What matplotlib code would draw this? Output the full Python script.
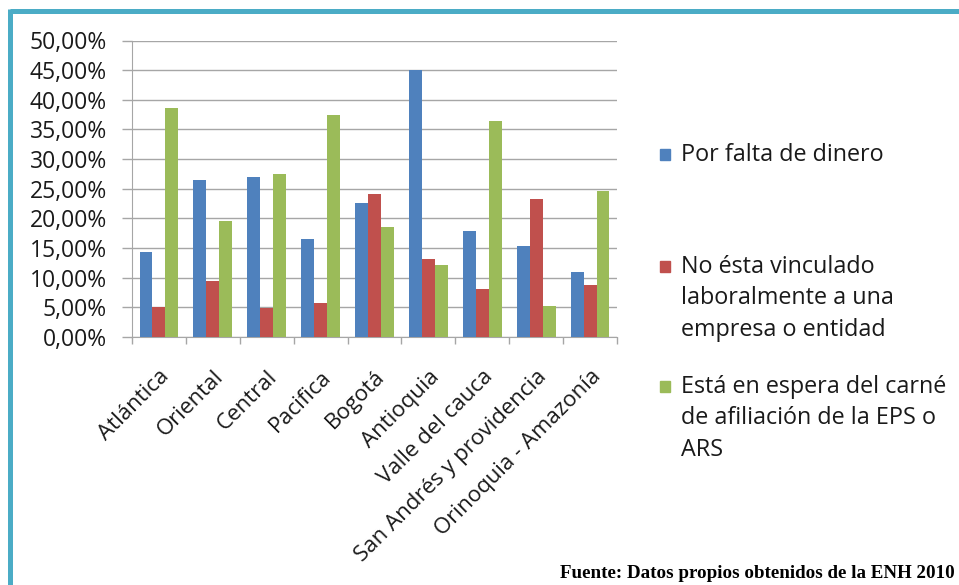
import matplotlib.pyplot as plt
import numpy as np
from matplotlib.lines import Line2D
from matplotlib.patches import Rectangle
from matplotlib.ticker import FuncFormatter

regions = ["Atlántica", "Oriental", "Central", "Pacifica", "Bogotá", "Antioquia",
           "Valle del cauca", "San Andrés y providencia", "Orinoquia - Amazonía"]
falta_dinero = [14.4, 26.5, 26.9, 16.5, 22.6, 45.0, 17.8, 15.4, 10.9]
no_vinculado = [5.0, 9.4, 4.9, 5.7, 24.1, 13.1, 8.1, 23.2, 8.7]
espera_carne = [38.6, 19.6, 27.5, 37.5, 18.5, 12.2, 36.4, 5.3, 24.7]

series = [falta_dinero, no_vinculado, espera_carne]
colors = ["#4F81BD", "#C0504D", "#9BBB59"]
legend_lines = [
    ["Por falta de dinero"],
    ["No ésta vinculado", "laboralmente a una", "empresa o entidad"],
    ["Está en espera del carné", "de afiliación de la EPS o", "ARS"],
]
legend_y = [155, 267, 387]   # first-line centre of each entry, pixels from top

FONT = "Open Sans"
W, H = 959, 585

fig = plt.figure(figsize=(W / 100, H / 100), dpi=100)
ax = fig.add_axes([132 / W, 1 - 337 / H, 485 / W, 296.5 / H])

x = np.arange(len(regions))
width = 0.24
for i, (vals, col) in enumerate(zip(series, colors)):
    ax.bar(x + (i - 1) * width, vals, width, color=col, zorder=3)

ax.set_xlim(-0.5, len(regions) - 0.5)
ax.set_ylim(0, 50)
ax.set_yticks(np.arange(0, 51, 5))
ax.yaxis.set_major_formatter(FuncFormatter(lambda v, p: f"{v:.2f}%".replace(".", ",")))
ax.grid(axis="y", color="#A6A6A6", linewidth=1, zorder=0)

ax.set_xticks(np.arange(-0.5, len(regions), 1))
ax.set_xticklabels([])
ax.set_xticks(x, minor=True)
ax.set_xticklabels(regions, minor=True, rotation=45, ha="right", va="top",
                   rotation_mode="anchor", fontfamily=FONT, fontsize=16,
                   color="#1a1a1a")
ax.tick_params(axis="x", which="minor", length=0, pad=21)
ax.tick_params(axis="x", which="major", length=5, color="#A6A6A6", width=1)
ax.tick_params(axis="y", length=7, color="#A6A6A6", width=1, pad=11)
for lab in ax.get_yticklabels():
    lab.set_fontfamily(FONT)
    lab.set_fontsize(16.5)
    lab.set_color("#1a1a1a")

for s in ["top", "right"]:
    ax.spines[s].set_visible(False)
ax.spines["left"].set_color("#A6A6A6")
ax.spines["bottom"].set_color("#A6A6A6")

# legend drawn line by line on the figure
for lines, y0, col in zip(legend_lines, legend_y, colors):
    fig.patches.append(Rectangle((660 / W, 1 - (y0 + 5) / H), 10 / W, 11 / H,
                                 transform=fig.transFigure, color=col))
    for k, line in enumerate(lines):
        fig.text(681 / W, 1 - (y0 + 31.5 * k) / H, line, fontfamily=FONT,
                 fontsize=16.8, va="center", ha="left", color="#1a1a1a")

fig.text(955 / W, 1 - 573 / H, "Fuente: Datos propios obtenidos de la ENH 2010",
         fontfamily="Liberation Serif", fontweight="bold", fontsize=13.7,
         ha="right", va="center")

# frame lines along top and left edge
fig.add_artist(Line2D([9.5 / W, 1], [1 - 11 / H, 1 - 11 / H], color="#4BACC6",
                      linewidth=3.6, transform=fig.transFigure, solid_capstyle="butt"))
fig.add_artist(Line2D([9.5 / W, 9.5 / W], [1 - 9 / H, 0], color="#4BACC6",
                      linewidth=3.6, transform=fig.transFigure, solid_capstyle="butt"))

fig.savefig("out.png", dpi=100)
